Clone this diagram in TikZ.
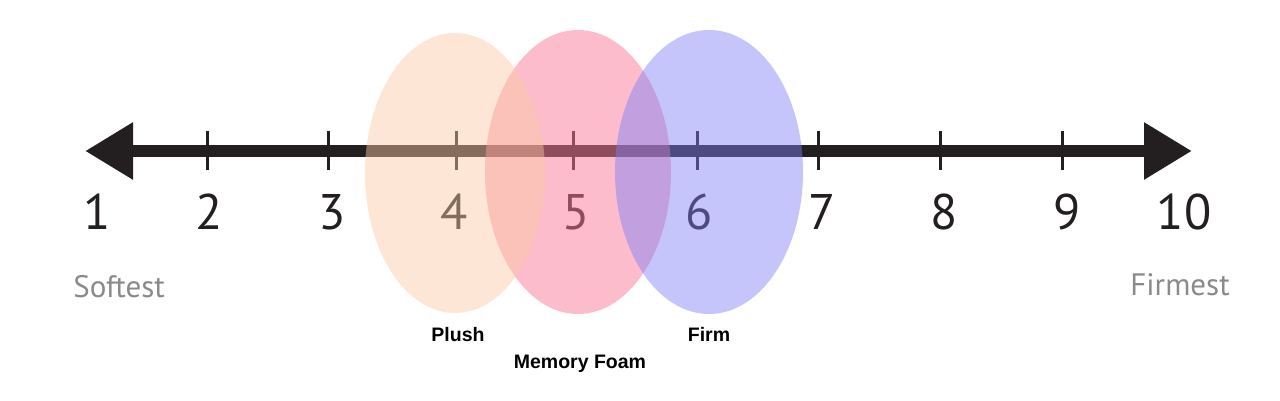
\documentclass[tikz,border=0pt]{standalone}
\usepackage{fontspec}
\setmainfont{PT Sans}
\newfontfamily\labelfont{Liberation Sans}
\usetikzlibrary{arrows.meta}

\definecolor{axisblack}{RGB}{35,31,32}
\definecolor{plushpeach}{RGB}{252,200,165}
\definecolor{foampink}{RGB}{249,122,153}
\definecolor{firmblue}{RGB}{127,127,246}
\definecolor{endgray}{RGB}{138,138,138}

\tikzset{
  tickmark/.style={draw=axisblack,line width=1.5pt},
  num/.style={font=\fontsize{25}{30}\selectfont,text=axisblack,inner sep=0pt,anchor=base},
  endlabel/.style={font=\fontsize{15.5}{18}\selectfont,text=endgray,inner sep=0pt,anchor=base west},
  kindlabel/.style={font=\labelfont\bfseries\fontsize{9.75}{12}\selectfont,text=black,inner sep=0pt,anchor=base},
}

\begin{document}
\begin{tikzpicture}[x=0.5pt,y=-0.5pt]
\useasboundingbox (0,0) rectangle (1280,401);

% number line
\coordinate (softend) at (85,151);
\coordinate (firmend) at (1192,151);
\draw[axisblack,line width=6pt,{Triangle[length=24pt,width=27pt]}-{Triangle[length=24pt,width=27pt]}] (softend) -- (firmend);

\draw[tickmark] (207,131) -- (207,170);
\draw[tickmark] (328,131) -- (328,170);
\draw[tickmark] (456,131) -- (456,170);
\draw[tickmark] (573,131) -- (573,170);
\draw[tickmark] (697,131) -- (697,170);
\draw[tickmark] (818,131) -- (818,170);
\draw[tickmark] (940,131) -- (940,170);
\draw[tickmark] (1062,131) -- (1062,170);

\node[num] (n1) at (97,229) {1};
\node[num] (n2) at (209,229) {2};
\node[num] (n3) at (332,229) {3};
\node[num] (n4) at (454,229) {4};
\node[num] (n5) at (576,229) {5};
\node[num] (n6) at (699,229) {6};
\node[num] (n7) at (822,229) {7};
\node[num] (n8) at (944,229) {8};
\node[num] (n9) at (1067,229) {9};
\node[num] (n10) at (1184,229) {10};

\node[endlabel] (softest) at (73,297) {Softest};
\node[endlabel] (firmest) at (1130,295) {Firmest};

% mattress ranges
\coordinate (foam) at (578,172);
\coordinate (plush) at (455,173);
\coordinate (firm) at (709,172);
\fill[foampink,opacity=0.5] (foam) ellipse [x radius=93, y radius=142];
\fill[plushpeach,opacity=0.46] (plush) ellipse [x radius=90, y radius=140];
\fill[firmblue,opacity=0.455] (firm) ellipse [x radius=94, y radius=142];

\node[kindlabel] (plushlabel) at (458,341) {Plush};
\node[kindlabel] (foamlabel) at (580,368) {Memory Foam};
\node[kindlabel] (firmlabel) at (709,341) {Firm};

\end{tikzpicture}
\end{document}
